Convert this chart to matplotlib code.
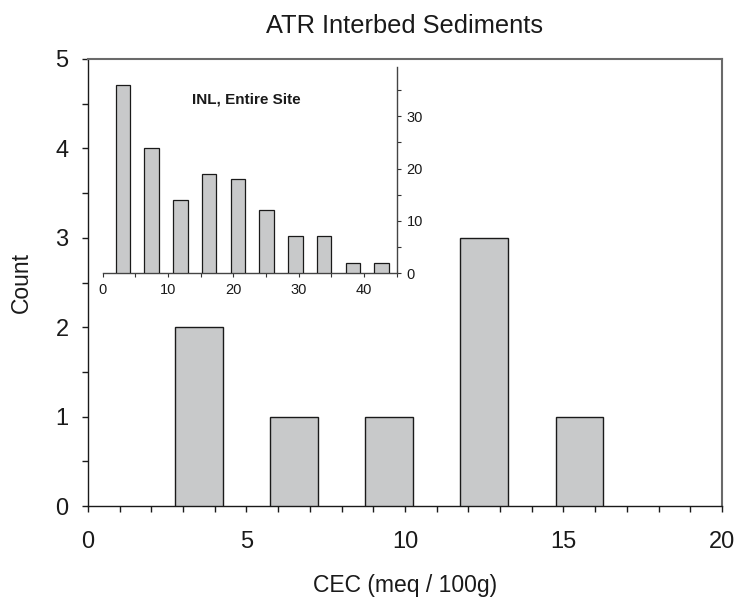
import matplotlib
matplotlib.use("Agg")
import matplotlib.pyplot as plt
from matplotlib.ticker import MultipleLocator

plt.rcParams["font.family"] = ["Liberation Sans", "DejaVu Sans"]

# ── ATR interbed data (main panel) ──
atr_cec = [3.5, 6.5, 9.5, 12.5, 15.5]
atr_count = [2, 1, 1, 3, 1]

# ── INL entire site data (inset) ──
inl_cec = [3.1, 7.5, 11.9, 16.3, 20.7, 25.1, 29.5, 33.9, 38.3, 42.7]
inl_count = [36, 24, 14, 19, 18, 12, 7, 7, 2, 2]

BAR_FACE = "#c8c9ca"
BAR_EDGE = "#1a1a1a"
GREY_SPINE = "#6a6a6a"

fig = plt.figure(figsize=(7.38, 5.97), dpi=100)

# main axes
ax = fig.add_axes([0.1192, 0.1524, 0.8591, 0.7488])
ax.bar(atr_cec, atr_count, width=1.5, color=BAR_FACE, edgecolor=BAR_EDGE,
       linewidth=1.0, zorder=3)
ax.set_xlim(0, 20)
ax.set_ylim(0, 5)
ax.xaxis.set_major_locator(MultipleLocator(5))
ax.xaxis.set_minor_locator(MultipleLocator(1))
ax.yaxis.set_major_locator(MultipleLocator(1))
ax.yaxis.set_minor_locator(MultipleLocator(0.5))
ax.tick_params(which="both", direction="out", length=4, width=1, colors="#1a1a1a",
               labelsize=17, labelcolor="#1a1a1a")
ax.tick_params(axis="x", which="both", pad=14)
ax.tick_params(axis="y", which="both", pad=10)
for side in ("top", "right"):
    ax.spines[side].set_color(GREY_SPINE)
    ax.spines[side].set_linewidth(1.5)
for side in ("left", "bottom"):
    ax.spines[side].set_color("#1a1a1a")
    ax.spines[side].set_linewidth(1.0)
ax.set_xlabel("CEC (meq / 100g)", fontsize=16.5, color="#1a1a1a", labelpad=15)
ax.set_ylabel("Count", fontsize=16.5, color="#1a1a1a", labelpad=16)
ax.set_title("ATR Interbed Sediments", fontsize=18.3, color="#1a1a1a", pad=19)

# inset axes
ins = fig.add_axes([0.139, 0.5427, 0.3985, 0.3456])
ins.bar(inl_cec, inl_count, width=2.2, color=BAR_FACE, edgecolor=BAR_EDGE,
        linewidth=0.9, zorder=3)
ins.set_xlim(0, 45)
ins.set_ylim(0, 39.5)
ins.patch.set_alpha(0)
ins.xaxis.set_major_locator(MultipleLocator(10))
ins.xaxis.set_minor_locator(MultipleLocator(5))
ins.yaxis.set_major_locator(MultipleLocator(10))
ins.yaxis.set_minor_locator(MultipleLocator(5))
ins.yaxis.tick_right()
ins.tick_params(which="both", direction="out", length=3, width=0.8, colors="#333333",
                labelsize=10.5, labelcolor="#1a1a1a", pad=4)
for side in ("top", "left"):
    ins.spines[side].set_visible(False)
for side in ("bottom", "right"):
    ins.spines[side].set_color("#444444")
    ins.spines[side].set_linewidth(1.0)
ins.text(0.49, 0.84, "INL, Entire Site", transform=ins.transAxes, ha="center",
         va="center", fontsize=11, fontweight="bold", color="#1a1a1a")

fig.savefig("out.png", dpi=100)
